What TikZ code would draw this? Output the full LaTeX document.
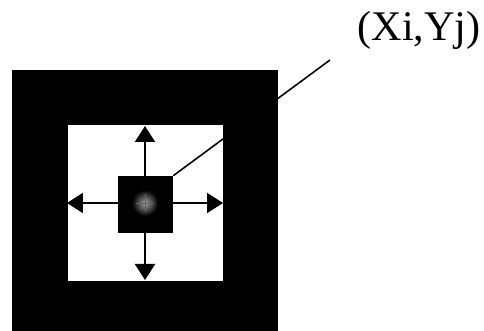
\documentclass[tikz,border=0pt]{standalone}
\usepackage{fontspec}
\setmainfont{Liberation Serif}
\usetikzlibrary{positioning,arrows.meta,calc}
\tikzset{
  framebox/.style={draw=none, fill=black, minimum width=5.32cm, minimum height=5.4cm, inner sep=0pt},
  windowbox/.style={draw=none, fill=white, minimum width=3.1cm, minimum height=3.12cm, inner sep=0pt},
  targetbox/.style={draw=none, fill=black, minimum width=1.1cm, minimum height=1.14cm, inner sep=0pt},
  movearrow/.style={-{Triangle[length=0.32cm, width=0.4cm]}, line width=1.2pt},
  leader/.style={line width=0.9pt, black},
  coordlabel/.style={font=\fontsize{24}{26}\selectfont, inner sep=0pt}
}
\begin{document}
\begin{tikzpicture}[x=0.02cm, y=0.02cm]
  \useasboundingbox (0,0) rectangle (484,331);
  % outer frame and search window
  \node[framebox] (frame) at (145,126) {};
  \node[windowbox] (window) at (145.5,128) {};
  % centre and arrow tips
  \coordinate (c) at (145,128);
  \coordinate (tipN) at (145,205);
  \coordinate (tipS) at (145,51);
  \coordinate (tipW) at (67,128);
  \coordinate (tipE) at (223,128);
  \draw[movearrow] (c) -- (tipN);
  \draw[movearrow] (c) -- (tipS);
  \draw[movearrow] (c) -- (tipW);
  \draw[movearrow] (c) -- (tipE);
  % label and leader
  \node[coordlabel] (pos) at (419,301) {(Xi,Yj)};
  \coordinate (lead) at (330,271);
  \node[targetbox] (target) at (145.5,126.5) {};
  \draw[leader] (target.north east) -- (lead);
  \shade[inner color=gray!75, outer color=black] (c) circle (13);
  \draw[black!60, line width=0.4pt] ($(c)+(0,-9)$) -- ($(c)+(0,9)$);
  \draw[black!60, line width=0.4pt] ($(c)+(-9,0)$) -- ($(c)+(9,0)$);
\end{tikzpicture}
\end{document}
